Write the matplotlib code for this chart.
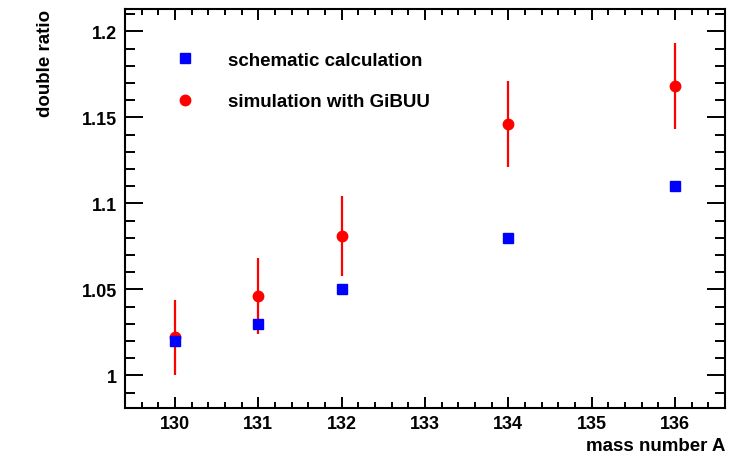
import matplotlib
matplotlib.use("Agg")
import matplotlib.pyplot as plt
from matplotlib.lines import Line2D
from matplotlib.ticker import MultipleLocator

# values
mass_schem = [130, 131, 132, 134, 136]
ratio_schem = [1.020, 1.030, 1.050, 1.080, 1.110]

mass_sim = [130, 131, 132, 134, 136]
ratio_sim = [1.022, 1.046, 1.081, 1.146, 1.168]
err_sim = [0.022, 0.022, 0.023, 0.025, 0.025]

legend_labels = ['schematic calculation', 'simulation with GiBUU']

plt.rcParams['font.family'] = ['Liberation Sans', 'DejaVu Sans']
plt.rcParams['font.weight'] = 'bold'

fig = plt.figure(figsize=(7.41, 4.56), dpi=100)
ax = fig.add_axes([0.1687, 0.1031, 0.8097, 0.8750])

ax.errorbar(mass_sim, ratio_sim, yerr=err_sim, fmt='o', color='#ff0000',
            ms=7.5, elinewidth=1.6, capsize=0, zorder=2)
ax.plot(mass_schem, ratio_schem, 's', color='#0000ff', ms=7.5, zorder=3)

ax.set_xlim(129.4, 136.6)
ax.set_ylim(0.981, 1.213)

ax.xaxis.set_major_locator(MultipleLocator(1))
ax.xaxis.set_minor_locator(MultipleLocator(0.2))
ax.yaxis.set_minor_locator(MultipleLocator(0.01))
ax.set_yticks([1.0, 1.05, 1.1, 1.15, 1.2])
ax.set_yticklabels(['1', '1.05', '1.1', '1.15', '1.2'])

ax.tick_params(axis='both', which='both', direction='in', top=True, right=True,
               width=1.4, labelsize=13)
ax.tick_params(axis='x', which='major', length=8, pad=5)
ax.tick_params(axis='x', which='minor', length=4)
ax.tick_params(axis='y', which='major', length=13, pad=6)
ax.tick_params(axis='y', which='minor', length=7)
for lbl in ax.get_xticklabels() + ax.get_yticklabels():
    lbl.set_fontweight('bold')
for sp in ax.spines.values():
    sp.set_linewidth(1.5)

ax.set_xlabel('mass number A', fontsize=13.5, fontweight='bold', loc='right')
ax.set_ylabel('double ratio', fontsize=13.5, fontweight='bold', loc='top', labelpad=20)

# legend proxies: plain markers, no error bar
handles = [Line2D([], [], ls='none', marker='s', color='#0000ff', ms=7.5),
           Line2D([], [], ls='none', marker='o', color='#ff0000', ms=7.5)]
ax.legend(handles, legend_labels, loc='upper left', bbox_to_anchor=(0.04, 0.935),
          frameon=False, handletextpad=1.3, labelspacing=1.3,
          prop={'weight': 'bold', 'size': 13.5})

fig.savefig('out.png', dpi=100)
